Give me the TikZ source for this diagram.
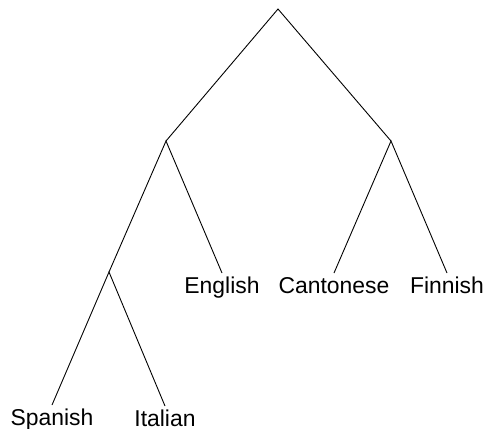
\documentclass[tikz,border=0pt]{standalone}
\usepackage{fontspec}
\setmainfont{Liberation Sans}
\usetikzlibrary{positioning}
\tikzset{
  leaf/.style={anchor=north, inner sep=4bp, font=\fontsize{23}{27}\selectfont},
  branch/.style={draw=black, line width=0.9pt}
}
\begin{document}
\begin{tikzpicture}[x=1bp,y=-1bp]
\useasboundingbox (0,0) rectangle (488,428);
\coordinate (root) at (278,9);
\coordinate (ieu) at (166,141);
\coordinate (rom) at (109,272);
\coordinate (oth) at (391,141);
\node[leaf] (english) at (222,273) {English};
\node[leaf] (cantonese) at (334,273) {Cantonese};
\node[leaf] (finnish) at (447,273) {Finnish};
\node[leaf] (spanish) at (52,405) {Spanish};
\node[leaf] (italian) at (165,406) {Italian};
\draw[branch] (ieu) -- (root) -- (oth);
\draw[branch] (rom) -- (ieu) -- (english.north);
\draw[branch] (spanish.north) -- (rom) -- (italian.north);
\draw[branch] (cantonese.north) -- (oth) -- (finnish.north);
\end{tikzpicture}
\end{document}
